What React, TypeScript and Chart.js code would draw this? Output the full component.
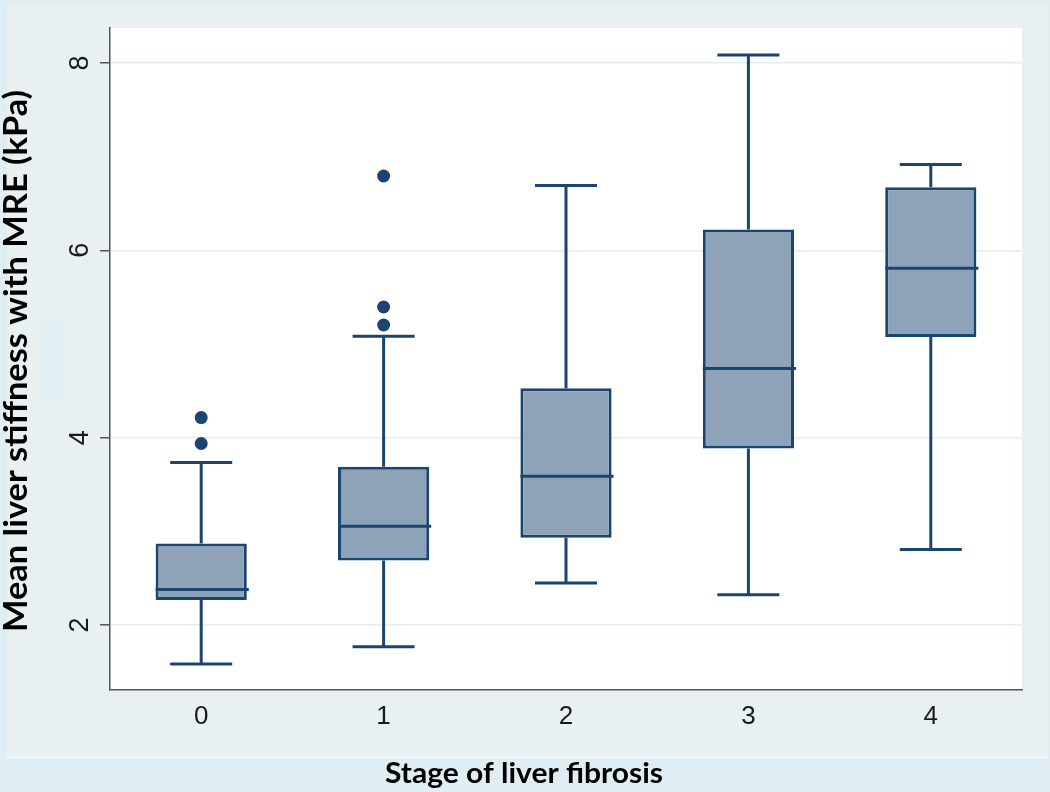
import React, { useEffect, useRef } from 'react';
import { Chart, registerables } from 'chart.js';

Chart.register(...registerables);

// ---- Data ----
const stages = ['0', '1', '2', '3', '4'];
const lowerWhisker = [1.584, 1.769, 2.448, 2.323, 2.807];
const q1 = [2.267, 2.69, 2.931, 3.885, 5.075];
const medians = [2.381, 3.056, 3.589, 4.738, 5.808];
const q3 = [2.871, 3.689, 4.528, 6.221, 6.672];
const upperWhisker = [3.735, 5.083, 6.693, 8.085, 6.917];
const outlierStage = ['0', '0', '1', '1', '1'];
const outlierValue = [4.215, 3.938, 6.793, 5.395, 5.203];
const yTickValues = [2, 4, 6, 8];
const yMin = 1.307;
const yMax = 8.373;
const xTitle = 'Stage of liver fibrosis';
const yTitle = 'Mean liver stiffness with MRE (kPa)';

const LINE = '#1b4570';
const FILL = '#8ea3b7';

export default function App() {
  const ref = useRef<HTMLCanvasElement>(null);

  useEffect(() => {
    const canvas = ref.current!;
    const ctx = canvas.getContext('2d')!;

    const bgPlugin = {
      id: 'bgPanels',
      beforeDraw(chart: any) {
        const c = chart.ctx;
        const { left, right, top, bottom } = chart.chartArea;
        c.save();
        c.fillStyle = '#e0eef4';
        c.fillRect(0, 0, chart.width, chart.height);
        c.fillStyle = '#e8f0f2';
        c.fillRect(7, 2, 1041, 755);
        c.fillStyle = '#f3f8f9';
        c.fillRect(7, 757, 1041, 1.5);
        c.fillStyle = '#e2eff5';
        c.fillRect(41, 322, 22, 78);
        c.fillStyle = '#ffffff';
        c.fillRect(left, top, right - left, bottom - top);
        c.restore();
      },
    };

    const boxPlugin = {
      id: 'boxParts',
      afterDatasetsDraw(chart: any) {
        const c = chart.ctx;
        const xs = chart.scales.x;
        const ys = chart.scales.y;
        const meta = chart.getDatasetMeta(0);
        const slot = xs.width / stages.length;
        const capHalf = slot * 0.17;
        c.save();
        c.strokeStyle = LINE;
        c.lineWidth = 3;
        c.lineCap = 'butt';
        stages.forEach((_, i) => {
          const cx = xs.getPixelForValue(i);
          const bar = meta.data[i];
          const half = bar.width / 2;
          const yLo = ys.getPixelForValue(lowerWhisker[i]);
          const yQ1 = ys.getPixelForValue(q1[i]);
          const yMed = ys.getPixelForValue(medians[i]);
          const yQ3 = ys.getPixelForValue(q3[i]);
          const yHi = ys.getPixelForValue(upperWhisker[i]);
          c.beginPath();
          c.moveTo(cx, yQ1);
          c.lineTo(cx, yLo);
          c.moveTo(cx, yQ3);
          c.lineTo(cx, yHi);
          c.moveTo(cx - capHalf, yLo);
          c.lineTo(cx + capHalf, yLo);
          c.moveTo(cx - capHalf, yHi);
          c.lineTo(cx + capHalf, yHi);
          c.moveTo(cx - half, yMed);
          c.lineTo(cx + half + 2, yMed);
          c.stroke();
        });
        c.restore();
      },
    };

    const textPlugin = {
      id: 'texts',
      afterDraw(chart: any) {
        const c = chart.ctx;
        const ys = chart.scales.y;
        c.save();
        // rotated y tick labels
        c.fillStyle = '#1a1a1a';
        c.font = '27px "Liberation Sans", Arial, sans-serif';
        c.textAlign = 'center';
        c.textBaseline = 'alphabetic';
        yTickValues.forEach((v) => {
          const y = ys.getPixelForValue(v);
          c.save();
          c.translate(88, y);
          c.rotate(-Math.PI / 2);
          c.fillText(String(v), 0, 0);
          c.restore();
        });
        // axis titles
        c.fillStyle = '#000000';
        const drawFit = (text: string, x: number, y: number, rot: number, font: string, target: number) => {
          c.save();
          c.font = font;
          c.textAlign = 'center';
          c.textBaseline = 'alphabetic';
          c.translate(x, y);
          c.rotate(rot);
          const w = c.measureText(text).width;
          c.scale(target / w, 1);
          c.fillText(text, 0, 0);
          c.restore();
        };
        drawFit(yTitle, 27, 361, -Math.PI / 2, 'bold 32px Lato, "Open Sans", sans-serif', 542);
        drawFit(xTitle, 524, 783, 0, 'bold 29px Lato, "Open Sans", sans-serif', 278);
        c.restore();
      },
    };

    const chart = new Chart(ctx, {
      type: 'bar',
      data: {
        labels: stages,
        datasets: [
          {
            type: 'bar',
            data: stages.map((_, i) => [q1[i], q3[i]]) as any,
            backgroundColor: FILL,
            borderColor: LINE,
            borderWidth: 3,
            borderSkipped: false,
            barPercentage: 0.5,
            categoryPercentage: 1,
            order: 2,
          },
          {
            type: 'line',
            data: outlierStage.map((s, i) => ({ x: s, y: outlierValue[i] })) as any,
            showLine: false,
            pointRadius: 6.5,
            pointBackgroundColor: LINE,
            pointBorderWidth: 0,
            borderColor: LINE,
            order: 1,
          },
        ],
      },
      options: {
        responsive: false,
        animation: false,
        layout: { padding: { top: 28, right: 28, left: 0, bottom: 0 } },
        plugins: {
          legend: { display: false },
          tooltip: { enabled: false },
        },
        scales: {
          x: {
            type: 'category',
            offset: true,
            grid: { display: false, drawTicks: false },
            border: { display: true, color: '#555555', width: 1.5 },
            ticks: {
              color: '#1a1a1a',
              font: { family: '"Liberation Sans", Arial, sans-serif', size: 26 },
              padding: 11,
            },
            afterFit: (s: any) => {
              s.height = 102;
            },
          },
          y: {
            type: 'linear',
            min: yMin,
            max: yMax,
            grid: {
              color: '#e3ecef',
              lineWidth: 1.5,
              drawTicks: true,
              tickLength: 10,
              tickColor: '#555555',
            },
            border: { display: true, color: '#555555', width: 1.5 },
            ticks: { display: false },
            afterBuildTicks: (s: any) => {
              s.ticks = yTickValues.map((v) => ({ value: v }));
            },
            afterFit: (s: any) => {
              s.width = 110;
            },
          },
        },
      },
      plugins: [bgPlugin, boxPlugin, textPlugin],
    });

    return () => chart.destroy();
  }, []);

  return (
    <div style={{ position: 'absolute', left: 0, top: 0, width: 1050, height: 792 }}>
      <canvas ref={ref} width={1050} height={792} style={{ display: 'block' }} />
    </div>
  );
}
